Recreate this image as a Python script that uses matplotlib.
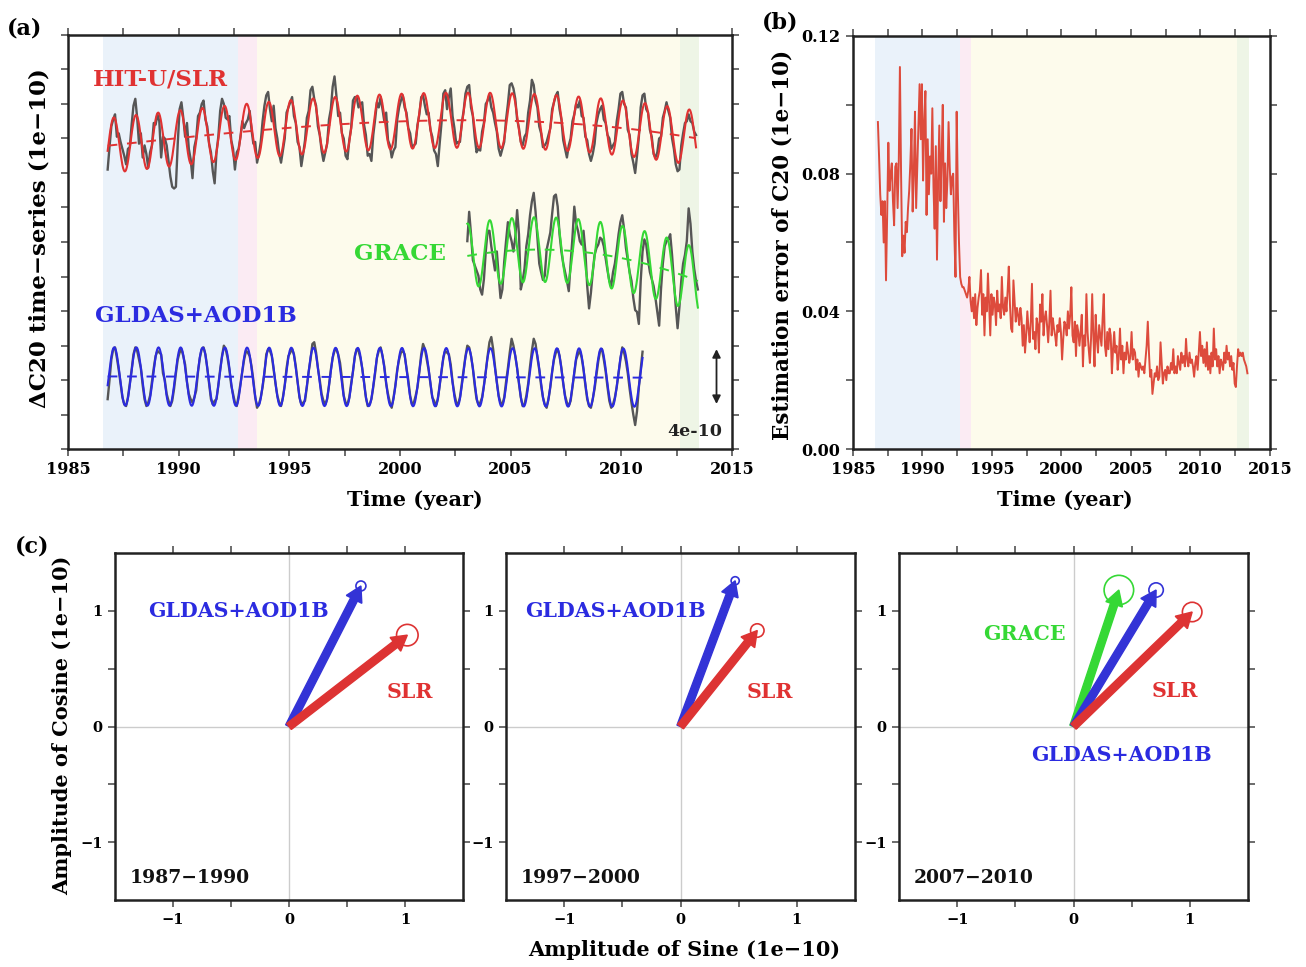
import numpy as np
import matplotlib.pyplot as plt
from matplotlib.patches import Circle
from matplotlib.ticker import MultipleLocator, FormatStrFormatter

plt.rcParams['font.family'] = 'DejaVu Serif'
plt.rcParams['font.weight'] = 'bold'

# ---------------- data (units of 1e-10) ----------------
# monthly gray series, rows = years (Jan..Dec), first row starts Oct 1986
slr_rows = [
    [-2.3, -1.0, 0.2],
    [0.6, 0.9, -0.4, -0.2, -0.7, -1.1, -1.5, -2.0, -1.1, -1.0, 0.3, 1.4],
    [1.8, 0.7, -0.8, -0.2, -1.6, -0.9, -1.4, -2.2, -1.3, -0.9, 0.4, 0.3],
    [0.9, 0.5, -1.6, -0.4, -0.5, -0.9, -1.8, -2.7, -3.3, -3.4, -3.3, -0.8],
    [1.2, 1.6, 0.7, -0.4, 0.4, -1.1, -1.7, -2.8, -1.0, -0.5, 0.8, 1.0],
    [1.5, 1.7, 0.6, 0.2, -0.8, -1.3, -2.4, -3.1, -1.3, -0.4, 1.1, 1.8],
    [1.5, 0.7, 0.6, 0.8, -0.6, -1.1, -2.3, -1.3, -1.1, -0.4, 0.5, 0.1],
    [0.4, 0.6, 1.1, 0.0, -0.8, -0.7, -1.9, -1.4, -0.7, 0.5, 1.4, 2.0],
    [2.2, 1.2, 0.5, 1.4, 0.1, -0.5, -1.4, -1.9, -1.2, -0.5, 1.0, 1.3],
    [1.6, 1.9, 0.8, 0.4, -0.7, -1.0, -2.1, -1.4, -0.6, 0.7, 1.1, 2.3],
    [2.5, 1.8, 1.4, 0.2, -0.3, -1.2, -1.8, -1.3, -0.8, 0.6, 1.2, 2.5],
    [3.1, 2.0, 0.8, 1.0, -0.2, -0.5, -1.5, -1.7, -0.6, 0.1, 1.7, 1.9],
    [1.9, 1.3, 1.5, 1.6, 0.3, -0.3, -1.5, -1.4, -1.8, -0.3, 0.6, 1.6],
    [1.3, 1.9, 1.2, 0.5, 1.0, -0.6, -0.9, -1.6, -1.2, -1.0, 0.6, 1.3],
    [1.7, 2.0, 1.3, 1.0, 0.1, -0.2, -1.0, -0.9, -0.8, 0.3, 0.9, 1.9],
    [2.0, 1.4, 0.9, 1.0, 0.0, -0.4, -1.2, -1.4, -2.1, -0.8, 0.4, 2.1],
    [2.3, 1.2, 1.9, 2.4, 0.8, 0.1, -0.8, -0.7, -0.7, 0.4, 1.1, 2.1],
    [2.5, 2.6, 1.3, 0.8, -0.4, -1.3, -1.1, -1.2, -0.1, 0.4, 1.5, 1.7],
    [2.0, 1.3, 1.0, 0.4, -0.1, -1.1, -1.5, -1.1, -0.7, 0.6, 1.5, 2.6],
    [2.7, 2.4, 1.8, 0.6, 0.1, -0.7, -0.9, -0.4, -0.2, 1.0, 1.7, 2.9],
    [2.6, 1.7, 1.3, 0.2, -0.2, -1.0, -0.9, -0.7, -0.3, 0.1, 1.2, 1.6],
    [2.0, 2.2, 1.2, 0.6, -0.6, -1.1, -1.6, -0.9, -0.5, 0.5, 0.9, 1.5],
    [1.3, 1.7, 0.8, 0.7, -0.4, -0.6, -1.4, -1.8, -1.4, -0.8, 0.4, 0.9],
    [1.2, 1.4, 0.6, 0.4, -0.3, -0.5, -1.1, -0.9, -0.7, 0.5, 1.2, 2.1],
    [2.2, 1.5, 1.3, 0.0, -0.3, -1.4, -1.9, -2.5, -1.5, -0.4, 1.3, 2.0],
    [2.1, 1.2, 1.0, 0.0, -0.4, -1.4, -1.6, -1.3, -0.5, -0.4, 0.7, 1.1],
    [1.6, 1.1, 0.7, -0.5, -1.1, -2.0, -2.4, -2.3, -0.9, -0.2, 0.4, 0.5],
    [0.9, 0.5, 0.4, -0.1, -0.3],
]

gldas_rows = [
    [-1.3, -0.2, 1.0],
    [1.6, 1.7, 1.1, 0.4, -0.4, -1.2, -1.6, -1.7, -1.2, -0.4, 0.4, 1.3],
    [1.7, 1.5, 1.0, 0.5, -0.5, -1.3, -1.7, -1.5, -1.1, -0.3, 0.5, 1.2],
    [1.5, 1.4, 1.3, 0.2, -0.2, -1.0, -1.4, -1.7, -1.4, -0.7, 0.2, 1.0],
    [1.4, 1.6, 1.2, 0.7, -0.3, -1.0, -1.3, -1.5, -1.2, -0.8, 0.3, 1.1],
    [1.6, 1.7, 1.3, 0.5, -0.4, -1.3, -1.6, -1.4, -1.3, -0.5, 0.4, 1.2],
    [1.8, 1.6, 1.1, 0.4, -0.5, -1.0, -1.5, -1.7, -1.1, -0.4, 0.3, 1.0],
    [1.5, 1.4, 1.2, 0.6, -0.2, -1.2, -1.8, -1.6, -1.2, -0.6, 0.2, 1.3],
    [1.6, 1.5, 1.2, 0.4, -0.4, -1.1, -1.5, -1.7, -1.2, -0.5, 0.5, 1.2],
    [1.4, 1.6, 1.3, 0.6, -0.3, -1.2, -1.6, -1.5, -1.4, -0.6, 0.3, 1.0],
    [1.9, 2.0, 1.4, 0.5, -0.2, -1.0, -1.4, -1.6, -1.3, -0.5, 0.4, 1.1],
    [1.5, 1.6, 1.3, 0.8, -0.1, -1.1, -1.5, -1.6, -1.2, -0.4, 0.3, 1.2],
    [1.6, 1.5, 1.1, 0.5, -0.3, -1.2, -1.7, -1.6, -1.3, -0.6, 0.2, 1.1],
    [1.5, 1.7, 1.2, 0.6, -0.4, -1.0, -1.5, -1.8, -1.2, -0.5, 0.4, 1.0],
    [1.4, 1.5, 1.3, 0.5, -0.2, -1.1, -1.6, -1.5, -1.1, -0.6, 0.3, 1.3],
    [1.9, 1.6, 1.0, 0.4, -0.4, -1.2, -1.4, -1.7, -1.3, -0.5, 0.3, 1.1],
    [1.5, 1.4, 1.3, 0.7, -0.3, -1.0, -1.5, -1.6, -1.2, -0.4, 0.4, 1.2],
    [1.8, 1.7, 1.2, 0.5, -0.5, -1.3, -1.6, -1.5, -1.2, -0.5, 0.3, 1.2],
    [2.0, 2.3, 1.6, 0.6, -0.3, -1.1, -1.5, -1.6, -1.2, -0.3, 0.5, 1.4],
    [2.2, 1.8, 1.2, 0.5, -0.4, -1.2, -1.7, -1.6, -1.1, -0.4, 0.6, 1.5],
    [2.2, 1.9, 1.1, 0.4, -0.5, -1.2, -1.6, -1.8, -1.3, -0.6, 0.3, 1.0],
    [1.4, 1.6, 1.2, 0.5, -0.4, -1.1, -1.5, -1.7, -1.4, -0.6, 0.2, 1.0],
    [1.3, 1.5, 1.1, 0.4, -0.5, -1.3, -1.7, -1.8, -1.3, -0.7, 0.1, 0.9],
    [1.5, 1.6, 1.0, 0.3, -0.6, -1.4, -1.8, -1.6, -1.2, -0.6, 0.2, 1.0],
    [1.7, 1.4, 0.9, 0.2, -0.7, -1.5, -2.2, -2.8, -2.0, -0.6, 0.4, 1.45],
]

# GRACE starts Jan 2003
grace_rows = [
    [0.8, 2.5, 1.2, -0.3, -0.6, -0.9, -1.2, -2.0, -2.3, -1.4, 0.2, 1.4],
    [1.4, 0.5, -0.2, -0.9, 0.2, -1.2, -2.5, -2.0, -0.4, 0.8, 1.9, 1.2],
    [0.8, 0.2, 1.0, 2.6, 1.2, -2.0, -1.5, -0.8, 0.5, 1.2, 2.3, 3.1],
    [3.6, 2.5, 1.0, -0.5, -1.0, -1.45, -1.2, 0.3, 0.8, 1.3, 2.4, 3.4],
    [3.5, 2.8, 1.2, 0.2, -0.5, -1.0, -1.5, -2.1, -0.5, 1.0, 2.8, 1.8],
    [1.4, 0.8, 0.6, 1.4, 0.2, -1.8, -3.1, -2.2, -1.0, 0.0, 0.4, 0.6],
    [1.0, 0.9, 0.5, -0.2, -0.9, -1.5, -1.8, -1.0, -0.5, 0.3, 1.2, 1.9],
    [2.3, 1.5, 0.4, -0.3, -1.0, -1.5, -2.5, -3.2, -3.3, -4.0, -1.5, 0.2],
    [0.9, 0.6, -0.3, -1.0, -1.4, -1.8, -2.5, -3.3, -4.1, -2.0, -0.5, 0.5],
    [0.8, 0.9, 1.2, 0.0, -1.5, -3.0, -4.25, -3.0, -1.5, -0.5, 0.0, 0.8],
    [2.7, 1.8, 0.2, -0.8, -1.5, -2.0],
]

# estimation error of C20, monthly from Oct 1986
err_rows = [
    [0.095, 0.085, 0.074],
    [0.068, 0.072, 0.060, 0.072, 0.049, 0.068, 0.089, 0.075, 0.080, 0.083, 0.072, 0.065],
    [0.082, 0.083, 0.070, 0.083, 0.111, 0.080, 0.056, 0.062, 0.057, 0.066, 0.063, 0.070],
    [0.075, 0.083, 0.093, 0.069, 0.080, 0.098, 0.070, 0.082, 0.094, 0.106, 0.090, 0.106],
    [0.078, 0.095, 0.104, 0.068, 0.090, 0.074, 0.085, 0.080, 0.099, 0.076, 0.064, 0.088],
    [0.055, 0.078, 0.094, 0.072, 0.085, 0.100, 0.066, 0.083, 0.070, 0.078, 0.095, 0.082],
    [0.074, 0.079, 0.080, 0.062, 0.050, 0.098, 0.075, 0.060, 0.050, 0.048, 0.047, 0.047],
    [0.046, 0.045, 0.044, 0.046, 0.050, 0.043, 0.040, 0.044, 0.038, 0.045, 0.036, 0.041],
    [0.044, 0.046, 0.052, 0.039, 0.045, 0.033, 0.044, 0.040, 0.051, 0.042, 0.033, 0.045],
    [0.039, 0.044, 0.042, 0.036, 0.046, 0.040, 0.042, 0.038, 0.050, 0.041, 0.039, 0.044],
    [0.040, 0.046, 0.053, 0.042, 0.035, 0.034, 0.049, 0.043, 0.037, 0.041, 0.039, 0.036],
    [0.041, 0.038, 0.030, 0.036, 0.028, 0.033, 0.040, 0.035, 0.031, 0.037, 0.048, 0.032],
    [0.034, 0.029, 0.038, 0.036, 0.028, 0.042, 0.037, 0.045, 0.033, 0.038, 0.040, 0.036],
    [0.031, 0.037, 0.046, 0.033, 0.038, 0.035, 0.033, 0.030, 0.036, 0.034, 0.038, 0.034],
    [0.026, 0.032, 0.037, 0.036, 0.033, 0.040, 0.035, 0.039, 0.047, 0.033, 0.031, 0.037],
    [0.027, 0.036, 0.034, 0.030, 0.034, 0.039, 0.024, 0.033, 0.030, 0.045, 0.034, 0.029],
    [0.025, 0.032, 0.045, 0.033, 0.024, 0.039, 0.032, 0.028, 0.036, 0.033, 0.030, 0.038],
    [0.045, 0.030, 0.027, 0.034, 0.029, 0.035, 0.033, 0.022, 0.029, 0.034, 0.028, 0.030],
    [0.023, 0.027, 0.035, 0.026, 0.030, 0.022, 0.028, 0.026, 0.031, 0.028, 0.025, 0.027],
    [0.034, 0.026, 0.029, 0.028, 0.023, 0.026, 0.021, 0.025, 0.024, 0.023, 0.024, 0.022],
    [0.026, 0.030, 0.037, 0.028, 0.021, 0.023, 0.016, 0.019, 0.022, 0.021, 0.024, 0.020],
    [0.021, 0.031, 0.025, 0.019, 0.022, 0.023, 0.020, 0.024, 0.022, 0.022, 0.025, 0.023],
    [0.029, 0.022, 0.024, 0.022, 0.027, 0.025, 0.023, 0.028, 0.025, 0.027, 0.024, 0.032],
    [0.026, 0.024, 0.028, 0.025, 0.026, 0.024, 0.021, 0.025, 0.027, 0.023, 0.028, 0.034],
    [0.027, 0.030, 0.025, 0.029, 0.024, 0.031, 0.023, 0.027, 0.022, 0.028, 0.024, 0.035],
    [0.026, 0.029, 0.024, 0.027, 0.022, 0.026, 0.025, 0.023, 0.028, 0.025, 0.030, 0.026],
    [0.028, 0.024, 0.027, 0.023, 0.025, 0.019, 0.018, 0.024, 0.029, 0.027, 0.028, 0.027],
    [0.028, 0.026, 0.025, 0.024, 0.022],
]

# analysis periods shaded in (a) and (b)
period_edges = [1986.57, 1992.68, 1993.52, 2012.65, 2013.5]
period_colors = ['#eaf2fa', '#fbebf3', '#fdfbec', '#eef5e6']

# panel (c): annual amplitudes (sine, cosine) and their error radius
windows = ['1987\u22121990', '1997\u22122000', '2007\u22122010']
slr_sin = [1.02, 0.66, 1.02]
slr_cos = [0.79, 0.83, 0.99]
slr_err = [0.093, 0.058, 0.084]
gldas_sin = [0.62, 0.47, 0.71]
gldas_cos = [1.215, 1.26, 1.18]
gldas_err = [0.043, 0.035, 0.062]
grace_sin = [None, None, 0.39]
grace_cos = [None, None, 1.18]
grace_err = [None, None, 0.127]

RED = '#e03232'
BLUE = '#2b2be0'
GREEN = '#35d835'
GRAY = '#565656'


def monthly(rows, year, month):
    vals = np.concatenate([np.asarray(r, float) for r in rows])
    t = year + (month - 0.5 + np.arange(len(vals))) / 12.0
    return t, vals


def seasonal_fit(t, y, deg):
    tc = t - 2000.0
    cols = [tc ** k for k in range(deg + 1)]
    cols += [np.sin(2 * np.pi * t), np.cos(2 * np.pi * t)]
    coef, *_ = np.linalg.lstsq(np.column_stack(cols), y, rcond=None)
    tf = np.linspace(t[0], t[-1], 800)
    tfc = tf - 2000.0
    trend = sum(coef[k] * tfc ** k for k in range(deg + 1))
    full = trend + coef[deg + 1] * np.sin(2 * np.pi * tf) + coef[deg + 2] * np.cos(2 * np.pi * tf)
    return tf, full, trend


t_slr, slr = monthly(slr_rows, 1986, 10)
t_gld, gld = monthly(gldas_rows, 1986, 10)
t_gra, gra = monthly(grace_rows, 2003, 1)
t_err, err = monthly(err_rows, 1986, 10)

W, H = 1306, 967
fig = plt.figure(figsize=(W / 100, H / 100), dpi=100)


def px_axes(l, t, r, b):
    return fig.add_axes([l / W, 1 - b / H, (r - l) / W, (b - t) / H])


def frame(ax, size=11.5):
    for s in ax.spines.values():
        s.set_linewidth(1.8)
        s.set_color('#222222')
    ax.tick_params(which='both', direction='out', top=True, right=True,
                   length=5, width=1.1, color='#444444', labelsize=size, pad=4)


def shade(ax):
    for a, b, c in zip(period_edges[:-1], period_edges[1:], period_colors):
        ax.axvspan(a, b, color=c, lw=0, zorder=0)


# ---------------- (a) ----------------
axa = px_axes(68, 35, 732, 449)
shade(axa)
offsets = {'slr': 18.5, 'grace': 11.25, 'gldas': 4.19}
for t, y, off, col, deg in [(t_slr, slr, offsets['slr'], RED, 3),
                            (t_gra, gra, offsets['grace'], GREEN, 2),
                            (t_gld, gld, offsets['gldas'], BLUE, 1)]:
    axa.plot(t, y + off, color=GRAY, lw=1.7, zorder=2)
    tf, full, trend = seasonal_fit(t, y, deg)
    axa.plot(tf, full + off, color=col, lw=1.5, zorder=3)
    axa.plot(tf, trend + off, color=col, lw=1.4, dashes=(5, 5), zorder=3)
axa.set_xlim(1985, 2015)
axa.set_ylim(0, 24)
axa.xaxis.set_major_locator(MultipleLocator(5))
axa.xaxis.set_minor_locator(MultipleLocator(2.5))
axa.yaxis.set_major_locator(MultipleLocator(2))
axa.set_yticklabels([])
frame(axa)
axa.text(1989.16, 21.4, 'HIT-U/SLR', color=RED, fontsize=16.5, ha='center', va='center')
axa.text(2000.0, 11.3, 'GRACE', color=GREEN, fontsize=16.5, ha='center', va='center')
axa.text(1990.78, 7.7, 'GLDAS+AOD1B', color=BLUE, fontsize=16.5, ha='center', va='center')
axa.annotate('', xy=(2014.3, 5.95), xytext=(2014.3, 2.45),
             arrowprops=dict(arrowstyle='<|-|>', color='#222222', lw=1.3, mutation_scale=12))
axa.text(2014.55, 1.0, '4e-10', fontsize=12.5, ha='right', va='center', color='#222222')

# ---------------- (b) ----------------
axb = px_axes(853, 36, 1270, 449)
shade(axb)
axb.plot(t_err, err, color='#dd4b3c', lw=1.4, zorder=2)
axb.set_xlim(1985, 2015)
axb.set_ylim(0, 0.12)
axb.xaxis.set_major_locator(MultipleLocator(5))
axb.xaxis.set_minor_locator(MultipleLocator(2.5))
axb.yaxis.set_major_locator(MultipleLocator(0.04))
axb.yaxis.set_minor_locator(MultipleLocator(0.02))
axb.yaxis.set_major_formatter(FormatStrFormatter('%.2f'))
frame(axb)

# ---------------- (c) ----------------
c_boxes = [(115, 553, 463, 900), (506, 553, 855, 900), (899, 553, 1248, 900)]
label_pos = [
    {'gldas': (-0.44, 1.0), 'slr': (1.04, 0.30)},
    {'gldas': (-0.56, 1.0), 'slr': (0.77, 0.30)},
    {'gldas': (0.41, -0.25), 'slr': (0.87, 0.31), 'grace': (-0.42, 0.80)},
]
for i, box in enumerate(c_boxes):
    ax = px_axes(*box)
    ax.set_xlim(-1.5, 1.5)
    ax.set_ylim(-1.5, 1.5)
    ax.axhline(0, color='#cccccc', lw=1.0, zorder=0)
    ax.axvline(0, color='#cccccc', lw=1.0, zorder=0)
    series = []
    if grace_sin[i] is not None:
        series.append(('grace', 'GRACE', grace_sin[i], grace_cos[i], grace_err[i], GREEN))
    series.append(('gldas', 'GLDAS+AOD1B', gldas_sin[i], gldas_cos[i], gldas_err[i], '#3333d6'))
    series.append(('slr', 'SLR', slr_sin[i], slr_cos[i], slr_err[i], '#dd3333'))
    for key, name, s, c, e, col in series:
        ax.arrow(0, 0, s, c, width=0.065, head_width=0.15, head_length=0.13,
                 length_includes_head=True, fc=col, ec=col, zorder=3)
        ax.add_patch(Circle((s, c), e, fill=False, ec=col, lw=1.2, zorder=4))
        tx, ty = label_pos[i][key]
        tcol = {'grace': GREEN, 'gldas': BLUE, 'slr': RED}[key]
        ax.text(tx, ty, name, color=tcol, fontsize=14.8, ha='center', va='center')
    ax.text(-1.37, -1.31, windows[i], fontsize=13.5, ha='left', va='center', color='#111111')
    ax.set_xticks([-1, -0.5, 0, 0.5, 1])
    ax.set_xticklabels(['\u22121', '', '0', '', '1'])
    ax.set_yticks([-1, -0.5, 0, 0.5, 1])
    ax.set_yticklabels(['\u22121', '', '0', '', '1'])
    frame(ax, size=10.5)

# ---------------- labels ----------------
fig.text(25 / W, 1 - 28 / H, '(a)', fontsize=16, ha='center', va='center')
fig.text(780 / W, 1 - 22 / H, '(b)', fontsize=16, ha='center', va='center')
fig.text(32 / W, 1 - 546 / H, '(c)', fontsize=16, ha='center', va='center')
fig.text(415 / W, 1 - 500 / H, 'Time (year)', fontsize=15, ha='center', va='center')
fig.text(1065 / W, 1 - 500 / H, 'Time (year)', fontsize=15, ha='center', va='center')
fig.text(40 / W, 1 - 238 / H, '\u0394C20 time\u2212series (1e\u221210)', fontsize=16.5,
         rotation=90, ha='center', va='center')
fig.text(782 / W, 1 - 245 / H, 'Estimation error of C20 (1e\u221210)', fontsize=15.5,
         rotation=90, ha='center', va='center')
fig.text(62 / W, 1 - 725 / H, 'Amplitude of Cosine (1e\u221210)', fontsize=15,
         rotation=90, ha='center', va='center')
fig.text(684 / W, 1 - 950 / H, 'Amplitude of Sine (1e\u221210)', fontsize=15,
         ha='center', va='center')

fig.savefig('out.png', dpi=100)
